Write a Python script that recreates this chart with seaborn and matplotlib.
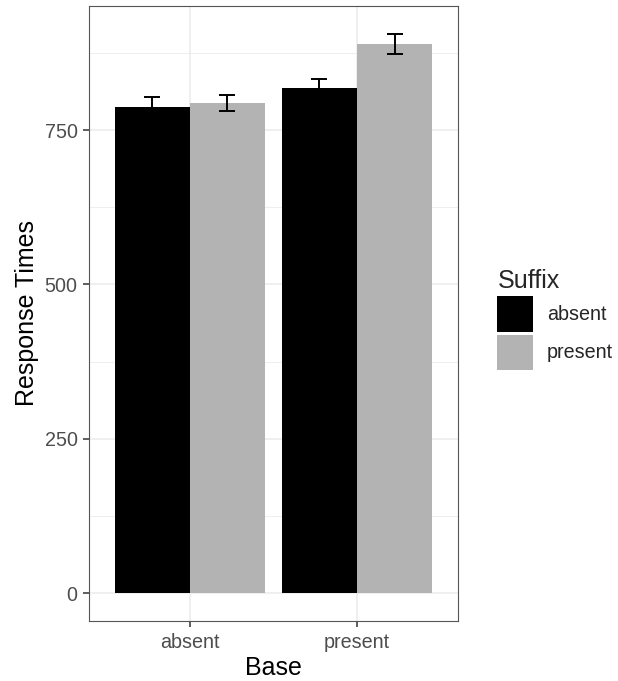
import pandas as pd
import matplotlib
matplotlib.use("Agg")
import matplotlib.pyplot as plt
import seaborn as sns

# values
base = ["absent", "absent", "present", "present"]
suffix = ["absent", "present", "absent", "present"]
rt_mean = [788, 794, 818, 889]
rt_se = [15, 13.5, 14.5, 16.5]

df = pd.DataFrame({"Base": base, "Suffix": suffix, "RT": rt_mean, "SE": rt_se})

sns.set_theme(style="white")
plt.rcParams["font.family"] = ["Liberation Sans", "DejaVu Sans"]

fig = plt.figure(figsize=(6.18, 6.81), dpi=100)
ax = fig.add_axes([0.1448, 0.0881, 0.5955, 0.9031])

sns.barplot(data=df, x="Base", y="RT", hue="Suffix", order=["absent", "present"],
            hue_order=["absent", "present"], palette=["#000000", "#B3B3B3"],
            errorbar=None, width=0.9, saturation=1, linewidth=0, ax=ax)

# error bars at the centres of the bars seaborn drew
bars = [p for p in ax.patches if p.get_height() > 0]
for b in bars:
    cx = b.get_x() + b.get_width() / 2
    top = b.get_height()
    row = df[(df["RT"] == top)].iloc[0]
    ax.errorbar(cx, top, yerr=row["SE"], fmt="none", ecolor="black",
                elinewidth=1.4, capsize=6, capthick=1.4, zorder=3)

ax.set_xlim(-0.6, 1.6)
ax.set_ylim(-45, 951)
ax.set_yticks([0, 250, 500, 750])
ax.set_yticks([125, 375, 625, 875], minor=True)
ax.grid(True, which="major", color="#EBEBEB", linewidth=1.1)
ax.grid(True, which="minor", axis="y", color="#EBEBEB", linewidth=0.6)
ax.set_axisbelow(True)
for s in ax.spines.values():
    s.set_color("#555555")
    s.set_linewidth(0.8)
ax.tick_params(axis="both", which="major", length=4.5, width=1.1, color="#333333",
               labelsize=14.2, labelcolor="#4D4D4D", pad=4, left=True, bottom=True)
ax.tick_params(axis="both", which="minor", length=0)
ax.set_xlabel("Base", fontsize=18, color="black", labelpad=3)
ax.set_ylabel("Response Times", fontsize=18, color="black", labelpad=4)

sns.move_legend(ax, "center left", bbox_to_anchor=(1.06, 0.49), frameon=False,
                title="Suffix", fontsize=14.2, title_fontsize=18,
                handlelength=1.8, handleheight=2.4, labelspacing=0.15,
                handletextpad=0.7)
leg = ax.get_legend()
leg._legend_box.align = "left"

fig.savefig("out.png", dpi=100)
